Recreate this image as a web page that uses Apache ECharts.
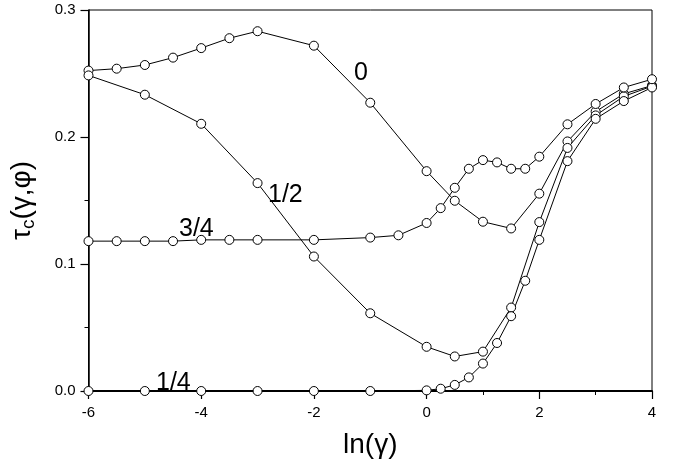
<!DOCTYPE html>
<html>
<head>
<meta charset="utf-8">
<script src="https://cdn.jsdelivr.net/npm/echarts@6/dist/echarts.min.js"></script>
<style>html,body{margin:0;padding:0;background:#fff;}#c{width:673px;height:464px;}</style>
</head>
<body>
<div id="c"></div>
<script>
const x0 = [-6,-5.5,-5,-4.5,-4,-3.5,-3,-2,-1,0,0.5,1,1.5,2,2.5,3,3.5,4];
const y0 = [0.2523,0.2538,0.2567,0.2625,0.270,0.2778,0.2833,0.2719,0.227,0.1731,0.1498,0.1333,0.128,0.1554,0.1965,0.220,0.234,0.2405];

const xHalf = [-6,-5,-4,-3,-2,-1,0,0.5,1,1.5,2,2.5,3,3.5,4];
const yHalf = [0.2485,0.2333,0.2104,0.1637,0.1059,0.0612,0.0348,0.0272,0.031,0.0657,0.133,0.1914,0.217,0.232,0.240];

const xQuarter = [-6,-5,-4,-3,-2,-1,0,0.25,0.5,0.75,1,1.25,1.5,1.75,2,2.5,3,3.5,4];
const yQuarter = [0,0,0,0,0,0,0.0005,0.0018,0.0048,0.0107,0.0216,0.0378,0.0589,0.0868,0.119,0.181,0.2143,0.2283,0.239];

const xThree = [-6,-5.5,-5,-4.5,-4,-3.5,-3,-2,-1,-0.5,0,0.25,0.5,0.75,1,1.25,1.5,1.75,2,2.5,3,3.5,4];
const yThree = [0.118,0.118,0.118,0.118,0.119,0.119,0.119,0.119,0.1208,0.1226,0.1323,0.144,0.16,0.175,0.1818,0.1800,0.175,0.175,0.1845,0.21,0.226,0.239,0.2455];

const seriesNames = ['0','1/2','1/4','3/4'];
const xTicks = [-6,-4,-2,0,2,4];
const yTicks = [0,0.1,0.2,0.3];

function pairs(xs, ys){ return xs.map((x,i)=>[x, ys[i]]); }

const FONT = 'Liberation Sans, Arial, sans-serif';
const chart = echarts.init(document.getElementById('c'), null, {renderer:'canvas'});

function mkSeries(name, data){
  return {
    name: name, type:'line', data: data,
    symbol:'circle', symbolSize:9,
    lineStyle:{color:'#000', width:1},
    itemStyle:{color:'#fff', borderColor:'#000', borderWidth:1},
    animation:false, z:3
  };
}

chart.setOption({
  backgroundColor:'#fff',
  animation:false,
  grid:{left:87, right:21, top:10, bottom:60, show:true, borderColor:'#000', borderWidth:1, backgroundColor:'transparent'},
  xAxis:{
    type:'value', min:-6, max:4, interval:2,
    axisLine:{show:true, onZero:false, lineStyle:{color:'#000', width:2}},
    axisTick:{show:true, inside:false, length:8, lineStyle:{color:'#000', width:1.2}},
    minorTick:{show:true, splitNumber:2, length:4, lineStyle:{color:'#000', width:1}},
    splitLine:{show:false},
    axisLabel:{color:'#000', fontSize:15, fontFamily:FONT, margin:14,
      formatter:function(v){ return xTicks.indexOf(v)>=0 ? String(v) : ''; }},
    name:'ln(γ)', nameLocation:'middle', nameGap:40,
    nameTextStyle:{color:'#000', fontSize:28, fontFamily:FONT}
  },
  yAxis:{
    type:'value', min:0, max:0.3, interval:0.1,
    axisLine:{show:true, onZero:false, lineStyle:{color:'#000', width:1.5}},
    axisTick:{show:true, inside:false, length:8, lineStyle:{color:'#000', width:1.2}},
    minorTick:{show:true, splitNumber:2, length:4, lineStyle:{color:'#000', width:1}},
    splitLine:{show:false},
    axisLabel:{color:'#000', fontSize:15, fontFamily:FONT, margin:13,
      formatter:function(v){ return v.toFixed(1); }},
    name:'{t|τ}{s|c}{t|(γ,φ)}', nameLocation:'middle', nameGap:50, nameRotate:90,
    nameTextStyle:{color:'#000', fontFamily:FONT,
      rich:{t:{fontSize:28, fontFamily:FONT, color:'#000'}, s:{fontSize:19, fontFamily:FONT, color:'#000', padding:[14,0,0,0]}}}
  },
  series:[
    mkSeries(seriesNames[0], pairs(x0,y0)),
    mkSeries(seriesNames[1], pairs(xHalf,yHalf)),
    mkSeries(seriesNames[2], pairs(xQuarter,yQuarter)),
    mkSeries(seriesNames[3], pairs(xThree,yThree))
  ],
  graphic:[
    {type:'text', left:354, top:61, style:{text:seriesNames[0], font:'25px '+FONT, fill:'#000'}, z:10},
    {type:'text', left:268, top:183, style:{text:seriesNames[1], font:'25px '+FONT, fill:'#000'}, z:10},
    {type:'text', left:179, top:217, style:{text:seriesNames[3], font:'25px '+FONT, fill:'#000'}, z:10},
    {type:'text', left:156, top:371, style:{text:seriesNames[2], font:'25px '+FONT, fill:'#000'}, z:10}
  ]
});
</script>
</body>
</html>
